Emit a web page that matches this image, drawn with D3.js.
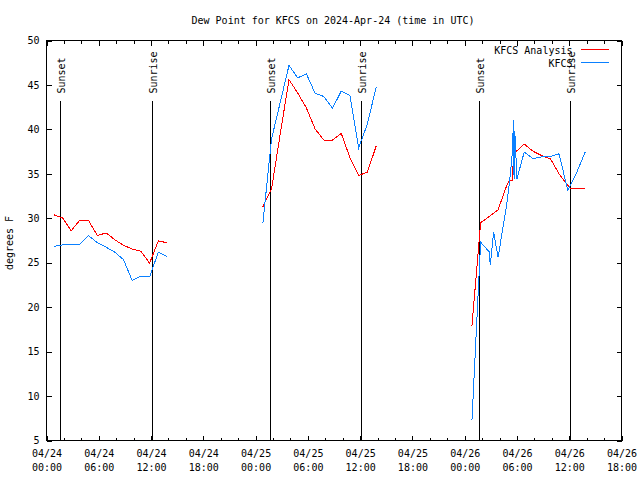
<!DOCTYPE html>
<html><head><meta charset="utf-8">
<script src="https://cdn.jsdelivr.net/npm/d3@7"></script>
<style>
body{margin:0;background:#fff}
text{font-family:"DejaVu Sans Mono","Liberation Mono",monospace;font-size:10px;fill:#000}
</style>
</head><body>
<svg id="c" width="640" height="480"></svg>
<script>
const titleText = "Dew Point for KFCS on 2024-Apr-24 (time in UTC)";
const yLabelText = "degrees F";
const seriesNames = ["KFCS Analysis", "KFCS"];
const seriesColors = ["#ff0000", "#0a80ff"];
const xDomain = ["2024-04-24 00:00", "2024-04-26 18:00"];
const yDomain = [5, 50];
const yTicks = [5, 10, 15, 20, 25, 30, 35, 40, 45, 50];
const xMajorTicks = ["2024-04-24 00:00","2024-04-24 06:00","2024-04-24 12:00","2024-04-24 18:00",
  "2024-04-25 00:00","2024-04-25 06:00","2024-04-25 12:00","2024-04-25 18:00",
  "2024-04-26 00:00","2024-04-26 06:00","2024-04-26 12:00","2024-04-26 18:00"];
const sunsetTimes = ["2024-04-24 01:32","2024-04-25 01:38","2024-04-26 01:39"];
const sunriseTimes = ["2024-04-24 12:05","2024-04-25 12:06","2024-04-26 12:07"];

// KFCS Analysis (red); null = gap
const analysisTimes = [
 "2024-04-24 00:50","2024-04-24 01:50","2024-04-24 02:50","2024-04-24 03:50","2024-04-24 04:50","2024-04-24 05:50","2024-04-24 06:50",
 "2024-04-24 07:50","2024-04-24 08:50","2024-04-24 09:50","2024-04-24 10:50","2024-04-24 11:50","2024-04-24 12:50","2024-04-24 13:50",
 "2024-04-24 18:00",
 "2024-04-25 00:50","2024-04-25 01:50","2024-04-25 02:50","2024-04-25 03:50","2024-04-25 04:50","2024-04-25 05:50","2024-04-25 06:50",
 "2024-04-25 07:50","2024-04-25 08:50","2024-04-25 09:50","2024-04-25 10:50","2024-04-25 11:50","2024-04-25 12:50","2024-04-25 13:50",
 "2024-04-25 18:00",
 "2024-04-26 00:50","2024-04-26 01:50","2024-04-26 02:50","2024-04-26 03:50","2024-04-26 04:50","2024-04-26 05:10","2024-04-26 05:30",
 "2024-04-26 05:35","2024-04-26 05:50","2024-04-26 06:50","2024-04-26 07:50","2024-04-26 08:50","2024-04-26 09:50","2024-04-26 10:50",
 "2024-04-26 11:50","2024-04-26 12:10","2024-04-26 12:50","2024-04-26 13:50"];
const analysisValues = [
 30.4,30.05,28.6,29.8,29.75,28.05,28.35,27.6,26.95,26.55,26.3,24.95,27.45,27.25,
 null,
 31.3,33.3,39.5,45.6,44.1,42.4,40.05,38.8,38.8,39.55,36.8,34.8,35.2,38.1,
 null,
 17.9,29.5,30.2,30.95,33.7,34.25,34.25,37.05,37.45,38.35,37.55,37.05,36.7,35.0,33.7,33.3,33.3,33.3];

// KFCS observations (blue)
const obsTimes = [
 "2024-04-24 00:50","2024-04-24 01:50","2024-04-24 02:50","2024-04-24 03:50","2024-04-24 04:50","2024-04-24 05:50","2024-04-24 06:50",
 "2024-04-24 07:50","2024-04-24 08:50","2024-04-24 09:50","2024-04-24 10:50","2024-04-24 11:50","2024-04-24 12:50","2024-04-24 13:50",
 "2024-04-24 18:00",
 "2024-04-25 00:50","2024-04-25 01:50","2024-04-25 02:50","2024-04-25 03:50","2024-04-25 04:50","2024-04-25 05:50","2024-04-25 06:50",
 "2024-04-25 07:50","2024-04-25 08:50","2024-04-25 09:50","2024-04-25 10:50","2024-04-25 11:50","2024-04-25 12:50","2024-04-25 13:50",
 "2024-04-25 18:00",
 "2024-04-26 00:50","2024-04-26 01:50","2024-04-26 02:50","2024-04-26 02:56","2024-04-26 03:19","2024-04-26 03:50","2024-04-26 04:50",
 "2024-04-26 05:10","2024-04-26 05:30","2024-04-26 05:35","2024-04-26 05:40","2024-04-26 05:45","2024-04-26 06:00","2024-04-26 06:50",
 "2024-04-26 07:50","2024-04-26 08:50","2024-04-26 09:50","2024-04-26 10:50","2024-04-26 11:50","2024-04-26 12:50","2024-04-26 13:50"];
const obsValues = [
 26.85,27.0,27.1,27.1,28.05,27.25,26.75,26.2,25.35,23.0,23.5,23.4,26.2,25.7,
 null,
 29.45,38.95,43.05,47.2,45.8,46.25,44.05,43.7,42.4,44.3,43.8,37.95,40.6,44.75,
 null,
 7.25,27.3,26.2,24.7,28.45,25.6,31.6,34.25,37.65,41.05,34.45,39.85,34.45,37.45,36.7,36.9,36.95,37.25,33.15,35.1,37.45];

const parse = d3.utcParse("%Y-%m-%d %H:%M");
const svg = d3.select("#c");
const L = 46.5, R = 621.5, T = 40.5, B = 440.5;
const x = d3.scaleUtc().domain(xDomain.map(parse)).range([L, R]);
const y = d3.scaleLinear().domain(yDomain).range([B, T]);

const xMajor = xMajorTicks.map(parse);
const xMinor = [];
for (let i = 0; i < xMajor.length - 1; i++) {
  const a = +xMajor[i], step = (xMajor[i+1] - xMajor[i]) / 3;
  xMinor.push(new Date(a + step), new Date(a + 2 * step));
}

// bottom axis with two-line labels
const fmtD = d3.utcFormat("%m/%d"), fmtT = d3.utcFormat("%H:%M");
const gB = svg.append("g").attr("transform", `translate(0,${B})`)
  .call(d3.axisBottom(x).tickValues(xMajor).tickSizeInner(-5).tickSizeOuter(0).tickPadding(0));
gB.select(".domain").remove();
gB.selectAll(".tick text").attr("dy", null).attr("y", null).text(null).each(function(d){
  const t = d3.select(this);
  t.append("tspan").attr("x", 0).attr("y", 16.5).text(fmtD(d));
  t.append("tspan").attr("x", 0).attr("y", 30.5).text(fmtT(d));
});
const gBm = svg.append("g").attr("transform", `translate(0,${B})`)
  .call(d3.axisBottom(x).tickValues(xMinor).tickSizeInner(-3).tickSizeOuter(0).tickFormat(""));
gBm.select(".domain").remove();
const gT = svg.append("g").attr("transform", `translate(0,${T})`)
  .call(d3.axisTop(x).tickValues(xMajor).tickSizeInner(-5).tickSizeOuter(0).tickFormat(""));
gT.select(".domain").remove();
const gTm = svg.append("g").attr("transform", `translate(0,${T})`)
  .call(d3.axisTop(x).tickValues(xMinor).tickSizeInner(-3).tickSizeOuter(0).tickFormat(""));
gTm.select(".domain").remove();

const gL = svg.append("g").attr("transform", `translate(${L},0)`)
  .call(d3.axisLeft(y).tickValues(yTicks).tickSizeInner(-5).tickSizeOuter(0).tickPadding(7));
gL.select(".domain").remove();
const gR = svg.append("g").attr("transform", `translate(${R},0)`)
  .call(d3.axisRight(y).tickValues(yTicks).tickSizeInner(-5).tickSizeOuter(0).tickFormat(""));
gR.select(".domain").remove();

svg.selectAll(".tick line").attr("stroke", "#000").attr("shape-rendering", "crispEdges");
svg.selectAll(".tick text").attr("font-family", null).attr("font-size", null).attr("fill", "#000");

// frame
svg.append("rect").attr("x", L).attr("y", T).attr("width", R - L).attr("height", B - T)
  .attr("fill", "none").attr("stroke", "#000").attr("shape-rendering", "crispEdges");

// sunrise / sunset markers
const markerTop = y(yDomain[0] + 0.85 * (yDomain[1] - yDomain[0]));
const markers = sunsetTimes.map(s => ({t: parse(s), label: "Sunset"}))
  .concat(sunriseTimes.map(s => ({t: parse(s), label: "Sunrise"})));
markers.forEach(m => {
  const px = Math.round(x(m.t)) + 0.5;
  svg.append("line").attr("x1", px).attr("x2", px).attr("y1", markerTop).attr("y2", B)
    .attr("stroke", "#000").attr("shape-rendering", "crispEdges");
  svg.append("text").attr("transform", `translate(${px + 4},${markerTop - 7}) rotate(-90)`)
    .attr("text-anchor", "start").text(m.label);
});

// series lines
const line = d3.line().defined(d => d.v != null).x(d => x(d.t)).y(d => y(d.v));
const red = analysisTimes.map((s, i) => ({t: parse(s), v: analysisValues[i]}));
const blue = obsTimes.map((s, i) => ({t: parse(s), v: obsValues[i]}));
svg.append("path").datum(red).attr("d", line).attr("fill", "none").attr("stroke", seriesColors[0])
  .attr("stroke-width", 1).attr("shape-rendering", "crispEdges");
svg.append("path").datum(blue).attr("d", line).attr("fill", "none").attr("stroke", seriesColors[1])
  .attr("stroke-width", 1).attr("shape-rendering", "crispEdges");

// legend
seriesNames.forEach((n, i) => {
  const ly = 49.5 + i * 13;
  svg.append("text").attr("x", 572.5).attr("y", ly + 4).attr("text-anchor", "end").text(n);
  svg.append("line").attr("x1", 581).attr("x2", 609).attr("y1", ly).attr("y2", ly)
    .attr("stroke", seriesColors[i]).attr("stroke-width", 1).attr("shape-rendering", "crispEdges");
});

// title and y label
svg.append("text").attr("x", 333).attr("y", 24).attr("text-anchor", "middle").text(titleText);
svg.append("text").attr("transform", "translate(13,243) rotate(-90)").attr("text-anchor", "middle").text(yLabelText);
</script>
</body></html>
